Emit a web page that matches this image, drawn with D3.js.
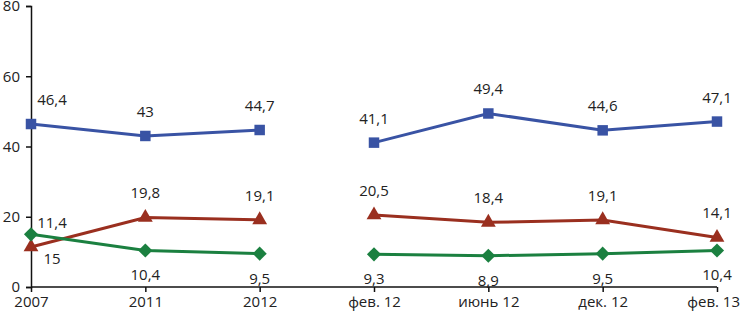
<!DOCTYPE html>
<html>
<head>
<meta charset="utf-8">
<script src="https://cdn.jsdelivr.net/npm/d3@7"></script>
<style>
  body { margin: 0; background: #fff; }
  text { font-family: "Open Sans", sans-serif; font-size: 15px; fill: #222; }
</style>
</head>
<body>
<div id="chart"></div>
<script>
const w = 742, h = 317;
const m = {l: 31, r: 25, t: 6, b: 30};

const categories = ["2007", "2011", "2012", "фев. 12", "июнь 12", "дек. 12", "фев. 13"];
// line is broken between these two groups
const groups = [["2007", "2011", "2012"], ["фев. 12", "июнь 12", "дек. 12", "фев. 13"]];
const blue = [46.4, 43, 44.7, 41.1, 49.4, 44.6, 47.1];
const red = [11.4, 19.8, 19.1, 20.5, 18.4, 19.1, 14.1];
const green = [15, 10.4, 9.5, 9.3, 8.9, 9.5, 10.4];
const yTicks = [0, 20, 40, 60, 80];

const series = [
  {values: blue, color: "#3953a4", marker: d3.symbolSquare, size: 110, rot: 0, label: "above"},
  {values: red, color: "#9a2f1f", marker: d3.symbolTriangle, size: 95, rot: 0, label: "above"},
  {values: green, color: "#1b8040", marker: d3.symbolSquare, size: 100, rot: 45, label: "below"}
];

const svg = d3.select("#chart").append("svg").attr("width", w).attr("height", h);

const x = d3.scalePoint().domain(categories).range([m.l, w - m.r]).padding(0);
const y = d3.scaleLinear().domain([0, 80]).range([h - m.b, m.t]);

// axes
const yAxis = svg.append("g")
  .attr("transform", `translate(${m.l},0)`)
  .call(d3.axisLeft(y).tickValues(yTicks).tickSize(5).tickPadding(6));
const xAxis = svg.append("g")
  .attr("transform", `translate(0,${y(0)})`)
  .call(d3.axisBottom(x).tickSize(5).tickPadding(4));

[yAxis, xAxis].forEach(a => {
  a.select(".domain").attr("stroke", "#111").attr("stroke-width", 1.5);
  a.selectAll(".tick line").attr("stroke", "#111").attr("stroke-width", 1.5);
  a.selectAll("text").attr("font-family", null).attr("font-size", null).attr("fill", "#222");
});
xAxis.select(".domain").attr("d", `M${m.l},0H${x(categories[categories.length - 1])}`);

// keep x labels inside the picture
xAxis.selectAll(".tick text").each(function() {
  const b = this.getBBox();
  const tx = +this.parentNode.getAttribute("transform").match(/translate\(([\d.]+)/)[1];
  const over = tx + b.x + b.width - (w - 2);
  if (over > 0) d3.select(this).attr("dx", -over);
});

const fmt = v => String(v).replace(".", ",");

series.forEach(s => {
  const pts = categories.map((c, i) => ({c, v: s.values[i]}));
  const line = d3.line().x(d => x(d.c)).y(d => y(d.v));
  groups.forEach(gr => {
    svg.append("path")
      .datum(pts.filter(p => gr.includes(p.c)))
      .attr("fill", "none")
      .attr("stroke", s.color)
      .attr("stroke-width", 3)
      .attr("d", line);
  });
  svg.append("g").selectAll("path")
    .data(pts)
    .join("path")
      .attr("transform", d => `translate(${x(d.c)},${y(d.v)}) rotate(${s.rot})`)
      .attr("d", d3.symbol().type(s.marker).size(s.size))
      .attr("fill", s.color);
});

series.forEach(s => {
  svg.append("g").selectAll("text")
    .data(categories.map((c, i) => ({c, v: s.values[i]})))
    .join("text")
      .attr("x", d => x(d.c) + (d.c === categories[0] ? 21 : 0))
      .attr("y", d => y(d.v) + (s.label === "above" ? -19 : 30))
      .attr("text-anchor", "middle")
      .text(d => fmt(d.v));
});
</script>
</body>
</html>
